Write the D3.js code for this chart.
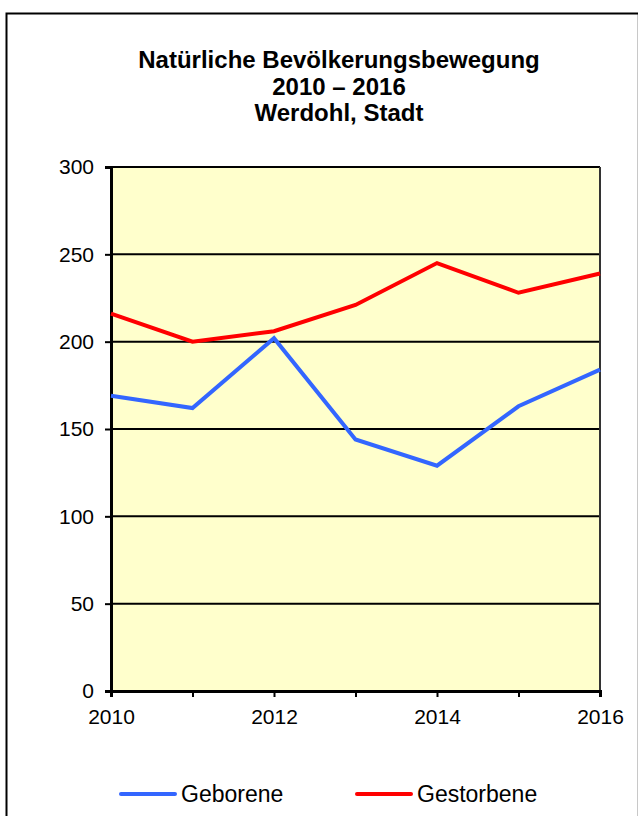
<!DOCTYPE html>
<html>
<head>
<meta charset="utf-8">
<script src="https://cdn.jsdelivr.net/npm/d3@7"></script>
<style>
  body { margin: 0; background: #fff; }
  svg { display: block; font-family: "Liberation Sans", Arial, sans-serif; }
</style>
</head>
<body>
<svg id="chart" width="639" height="816"></svg>
<script>
(function (d3) {
    "use strict";

    // values
    var years = [2010, 2011, 2012, 2013, 2014, 2015, 2016];
    var geborene = [169, 162, 202, 144, 129, 163, 184];
    var gestorbene = [216, 200, 206, 221, 245, 228, 239];
    var yTicks = [0, 50, 100, 150, 200, 250, 300];
    var xLabels = [2010, 2012, 2014, 2016];
    var titleLines = ["Natürliche Bevölkerungsbewegung", "2010 – 2016", "Werdohl, Stadt"];

    var series = [
        {name: "Geborene", values: geborene, color: "#3366FF"},
        {name: "Gestorbene", values: gestorbene, color: "#FF0000"}
    ];

    var svg = d3.select("#chart");
    var left = 111, right = 600, top = 167, bottom = 691;

    var x = d3.scaleLinear().domain([2010, 2016]).range([left, right]);
    var y = d3.scaleLinear().domain([0, 300]).range([bottom, top]);

    // outer frame: black top/left, light right edge
    svg.append("line")
        .attr("x1", 637.5).attr("x2", 637.5).attr("y1", 13).attr("y2", 816)
        .attr("stroke", "#c8c8c8").attr("stroke-width", 1);
    svg.append("path")
        .attr("d", "M6.5,816V13.5H638")
        .attr("fill", "none")
        .attr("stroke", "#000").attr("stroke-width", 2);

    // title
    svg.append("g").selectAll("text").data(titleLines).enter().append("text")
        .attr("x", 339)
        .attr("y", function (d, i) { return 68 + i * 26.5; })
        .attr("text-anchor", "middle")
        .attr("font-weight", "bold")
        .attr("font-size", 24)
        .text(function (d) { return d; });

    // plot background
    svg.append("rect")
        .attr("x", left).attr("y", top)
        .attr("width", right - left).attr("height", bottom - top)
        .attr("fill", "#FFFFCC");

    // gridlines
    svg.append("g").selectAll("line").data(yTicks.slice(1)).enter().append("line")
        .attr("x1", left).attr("x2", right)
        .attr("y1", function (d) { return y(d); })
        .attr("y2", function (d) { return y(d); })
        .attr("stroke", "#000").attr("stroke-width", 2);

    // right border of plot
    svg.append("line")
        .attr("x1", right).attr("x2", right)
        .attr("y1", top).attr("y2", bottom)
        .attr("stroke", "#333").attr("stroke-width", 2);

    // y axis
    var yAxis = svg.append("g")
        .attr("transform", "translate(" + left + ",0)")
        .call(d3.axisLeft(y).tickValues(yTicks).tickSize(6).tickPadding(11));
    yAxis.select(".domain").attr("stroke-width", 3);
    yAxis.selectAll(".tick line").attr("stroke-width", 2);
    yAxis.selectAll("text").attr("font-size", 21).attr("fill", "#000")
        .attr("font-family", "Liberation Sans, Arial, sans-serif");

    // x axis
    var xAxis = svg.append("g")
        .attr("transform", "translate(0," + bottom + ")")
        .call(d3.axisBottom(x).tickValues(years).tickSize(6).tickPadding(12)
            .tickFormat(function (d) { return xLabels.indexOf(d) >= 0 ? d : ""; }));
    xAxis.select(".domain").attr("stroke-width", 3);
    xAxis.selectAll(".tick line").attr("stroke-width", 2);
    xAxis.selectAll("text").attr("font-size", 21).attr("fill", "#000")
        .attr("font-family", "Liberation Sans, Arial, sans-serif");

    // lines
    var line = d3.line()
        .x(function (d, i) { return x(years[i]); })
        .y(function (d) { return y(d); });

    svg.append("g").selectAll("path").data(series).enter().append("path")
        .attr("d", function (d) { return line(d.values); })
        .attr("fill", "none")
        .attr("stroke", function (d) { return d.color; })
        .attr("stroke-width", 4)
        .attr("stroke-linejoin", "miter");

    // legend
    var legend = svg.append("g").selectAll("g").data(series).enter().append("g")
        .attr("transform", function (d, i) { return "translate(" + (121 + i * 236) + ",794)"; });
    legend.append("line")
        .attr("x1", 0).attr("x2", 54)
        .attr("stroke", function (d) { return d.color; })
        .attr("stroke-width", 4)
        .attr("stroke-linecap", "round");
    legend.append("text")
        .attr("x", 60).attr("y", 8)
        .attr("font-size", 23)
        .text(function (d) { return d.name; });

}(window.d3));
</script>
</body>
</html>
